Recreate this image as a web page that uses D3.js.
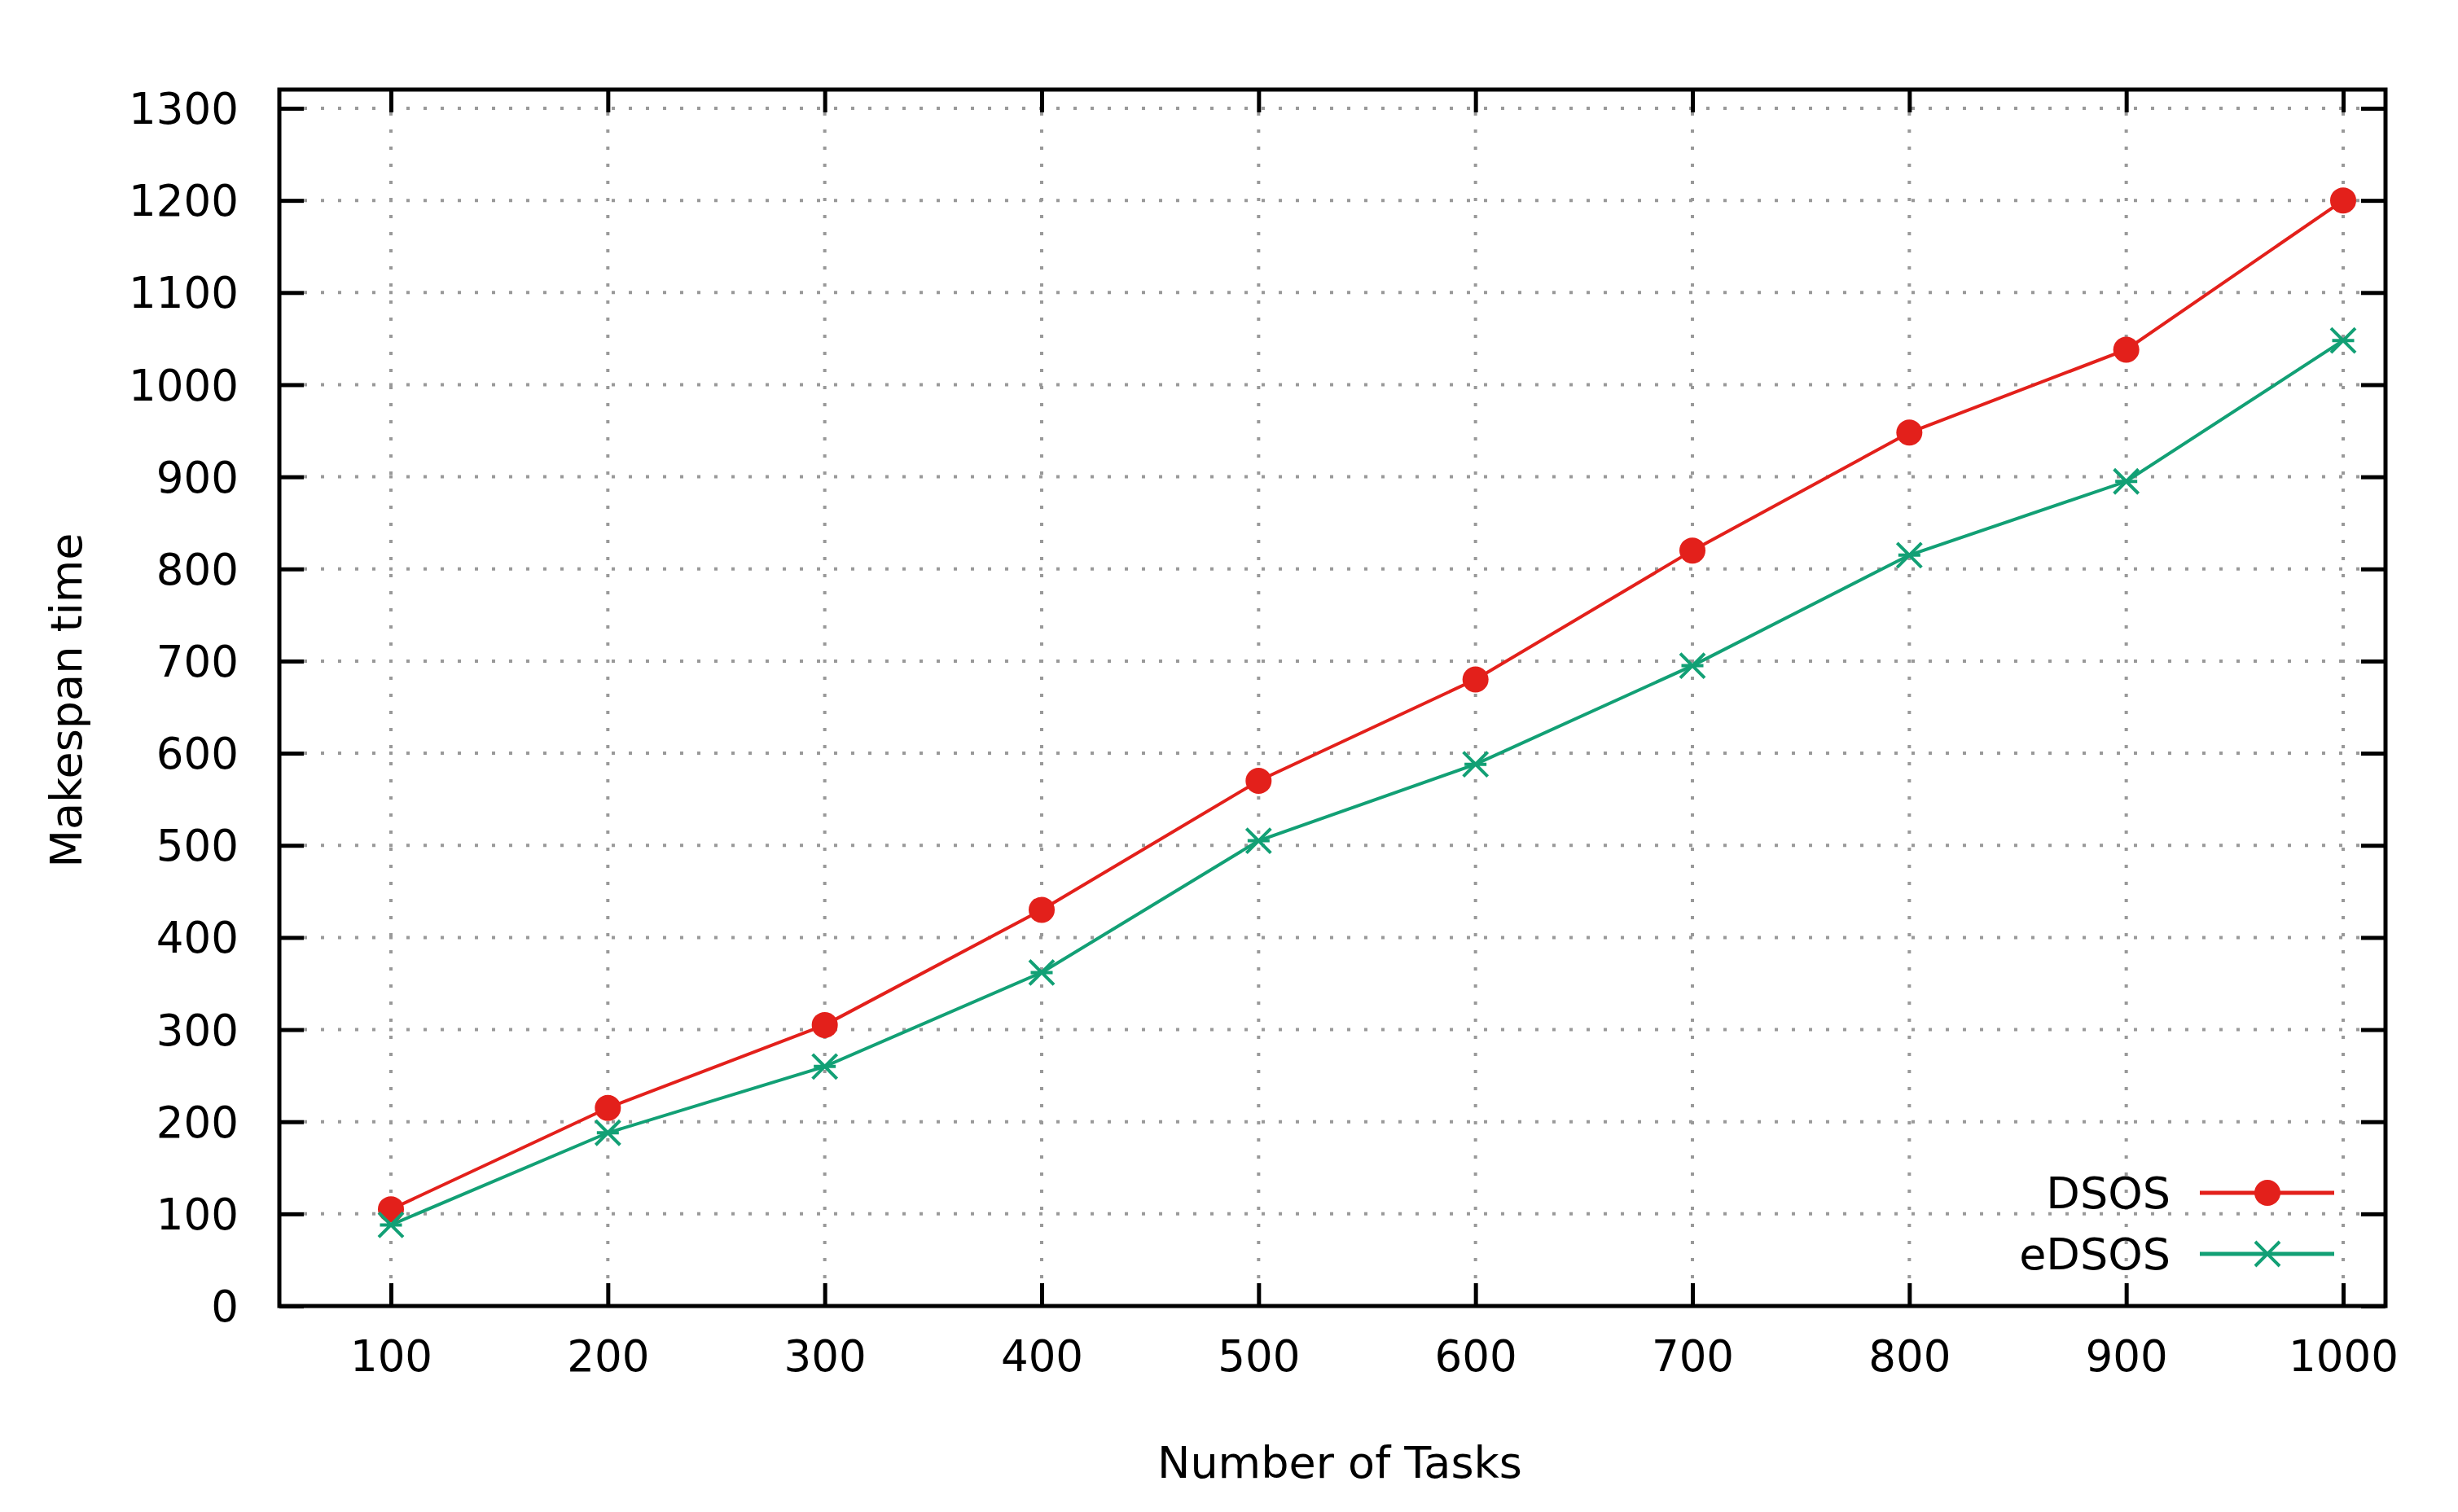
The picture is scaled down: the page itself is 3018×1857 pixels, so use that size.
<!DOCTYPE html><html><head><meta charset="utf-8"><script src="https://cdn.jsdelivr.net/npm/d3@7"></script>
<style>body{margin:0;background:#fff}text{font-family:"DejaVu Sans",Verdana,sans-serif}</style></head><body>
<svg id="c" width="3018" height="1857"></svg>
<script>
const tasks=[100,200,300,400,500,600,700,800,900,1000];
const dsos=[105,215,305,430,570,680,820,948,1038,1200];
const edsos=[88,188,260,362,505,588,695,815,895,1048];
const yTicks=[0,100,200,300,400,500,600,700,800,900,1000,1100,1200,1300];
const seriesNames=["DSOS","eDSOS"];
const colors=["#e3201b","#12a075"];
const L=343,R=2929,T=110,B=1604;
const svg=d3.select("#c");
const x=d3.scaleLinear().domain([100,1000]).range([480,2877]);
const y=d3.scaleLinear().domain([0,1300]).range([B,133]);
const g=svg.append("g");
g.selectAll(".gx").data(tasks).enter().append("line").attr("x1",d=>x(d)).attr("x2",d=>x(d)).attr("y1",T+28).attr("y2",B-28).attr("stroke","#999").attr("stroke-width",4).attr("stroke-dasharray","4,17");
g.selectAll(".gy").data(yTicks.slice(1)).enter().append("line").attr("y1",d=>y(d)).attr("y2",d=>y(d)).attr("x1",L+30).attr("x2",R-30).attr("stroke","#999").attr("stroke-width",4).attr("stroke-dasharray","4,17");
const ax=d3.axisBottom(x).tickValues(tasks).tickSize(-28).tickFormat(d3.format("d")).tickPadding(42);
const axg=g.append("g").attr("transform",`translate(0,${B})`).call(ax);
const axt=g.append("g").attr("transform",`translate(0,${T})`).call(d3.axisTop(x).tickValues(tasks).tickSize(-28).tickFormat(""));
const ay=d3.axisLeft(y).tickValues(yTicks).tickSize(-30).tickFormat(d3.format("d")).tickPadding(50);
const ayg=g.append("g").attr("transform",`translate(${L},0)`).call(ay);
const ayr=g.append("g").attr("transform",`translate(${R},0)`).call(d3.axisRight(y).tickValues(yTicks).tickSize(-30).tickFormat(""));
[axg,axt,ayg,ayr].forEach(a=>{a.select(".domain").remove();a.selectAll("line").attr("stroke","#000").attr("stroke-width",5);a.selectAll("text").attr("font-size",53).attr("fill","#000").attr("font-family","DejaVu Sans");});
ayg.selectAll("text").attr("dy","0.35em");
g.append("rect").attr("x",L).attr("y",T).attr("width",R-L).attr("height",B-T).attr("fill","none").attr("stroke","#000").attr("stroke-width",5);
const data=[dsos,edsos];
const line=d3.line().x((d,i)=>x(tasks[i])).y(d=>y(d));
data.forEach((s,k)=>{
 g.append("path").attr("d",line(s)).attr("fill","none").attr("stroke",colors[k]).attr("stroke-width",4);
});
function marker(sel,k,cx,cy){
 if(k===0) sel.append("circle").attr("cx",cx).attr("cy",cy).attr("r",16).attr("fill",colors[0]);
 else{const s=15;sel.append("path").attr("d",`M${cx-s},${cy-s}L${cx+s},${cy+s}M${cx-s},${cy+s}L${cx+s},${cy-s}M${cx-s*0.9},${cy}L${cx+s*0.9},${cy}`).attr("stroke",colors[1]).attr("stroke-width",4).attr("fill","none");}
}
data.forEach((s,k)=>s.forEach((v,i)=>marker(g,k,x(tasks[i]),y(v))));
seriesNames.forEach((n,k)=>{
 const ly=1465+k*75;
 g.append("text").attr("x",2665).attr("y",ly).attr("dy","0.35em").attr("text-anchor","end").attr("font-size",54).text(n);
 g.append("line").attr("x1",2701).attr("x2",2866).attr("y1",ly).attr("y2",ly).attr("stroke",colors[k]).attr("stroke-width",5);
 marker(g,k,2784,ly);
});
svg.append("text").attr("x",1645).attr("y",1815).attr("text-anchor","middle").attr("font-size",54).text("Number of Tasks");
svg.append("text").attr("transform","translate(100,860) rotate(-90)").attr("text-anchor","middle").attr("font-size",54).text("Makespan time");
</script></body></html>
